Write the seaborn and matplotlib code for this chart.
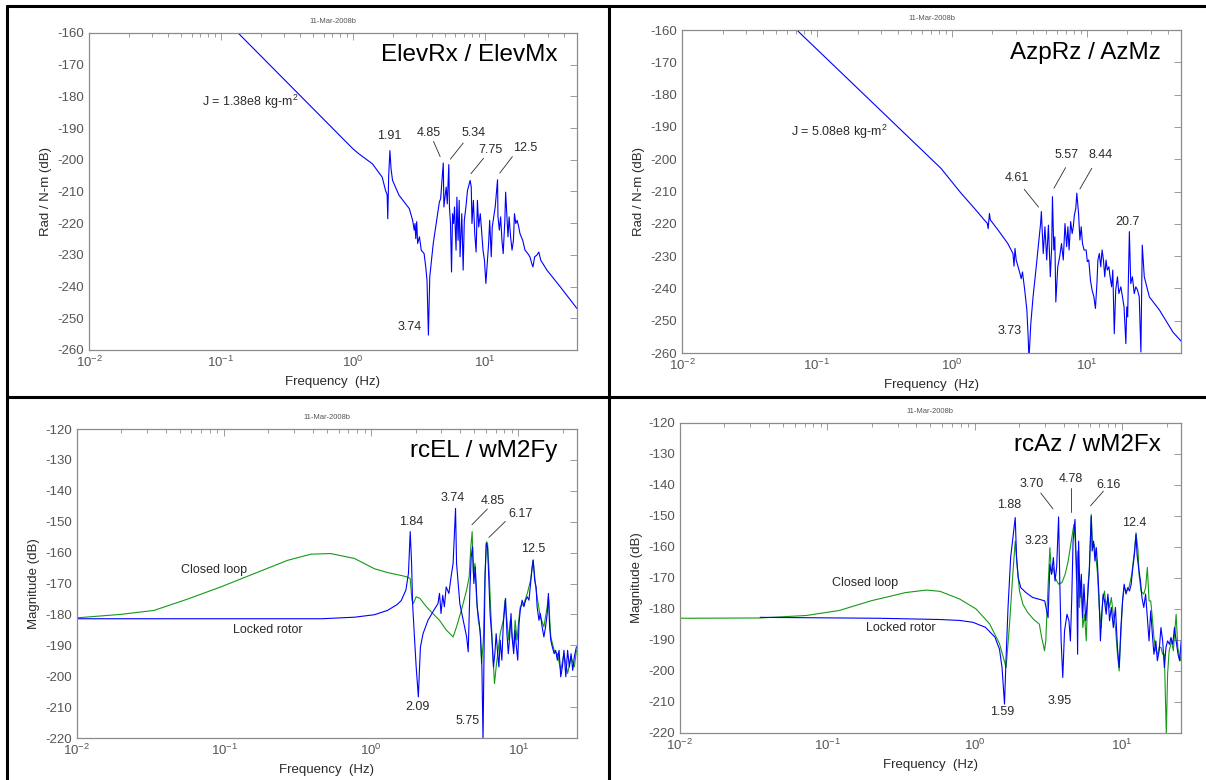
import numpy as np
import pandas as pd
import seaborn as sns
import matplotlib.pyplot as plt
from matplotlib.lines import Line2D
from matplotlib.ticker import LogLocator, MultipleLocator, NullFormatter

# ---------------- data (frequency Hz, magnitude dB) ----------------
# top-left: ElevRx / ElevMx
elev_f = [0.135, 1.0, 1.11, 1.41, 1.67, 1.77, 1.82, 1.84, 1.87, 1.91, 1.95, 2.0, 2.24, 2.68, 2.84,
          2.92, 2.96, 3.0, 3.05, 3.1, 3.2, 3.3, 3.47, 3.57, 3.65, 3.74, 3.83, 4.07, 4.32, 4.53,
          4.63, 4.74, 4.85, 4.9, 5.03, 5.1, 5.2, 5.34, 5.4, 5.5, 5.6, 5.7, 5.8, 5.9, 6.06, 6.15,
          6.28, 6.4, 6.5, 6.7, 6.86, 7.0, 7.2, 7.4, 7.75, 7.9, 8.0, 8.2, 8.4, 8.6, 8.8, 9.0, 9.25,
          9.5, 9.7, 9.95, 10.2, 10.4, 10.7, 10.9, 11.2, 11.4, 11.7, 12.0, 12.5, 12.6, 12.9, 13.2,
          13.5, 13.8, 14.2, 14.4, 14.6, 15.0, 15.3, 15.7, 16.1, 16.5, 16.8, 17.2, 17.6, 18.1, 18.5,
          19.4, 20.2, 21.2, 22.0, 22.7, 23.2, 23.9, 24.8, 25.7, 26.6, 29.6, 37.4, 50.0]
elev_db = [-160, -196.5, -198.1, -201.3, -205.5, -209.7, -211.0, -218.6, -205.0, -197.1, -203.0,
           -206.5, -211.2, -215.4, -219.1, -222.2, -220.1, -224.9, -219.5, -226.4, -224.3, -228.5,
           -229.6, -233.8, -238.0, -255.3, -236.9, -226.4, -219.1, -213.3, -212.3, -206.5, -201.0,
           -214.9, -210.7, -208.6, -213.9, -201.5, -214.9, -220.1, -235.4, -217.0, -220.1, -214.9,
           -228.5, -211.8, -225.4, -212.8, -230.6, -217.0, -234.8, -219.1, -214.9, -209.7, -206.5,
           -208.6, -220.1, -212.8, -223.3, -229.1, -212.8, -221.2, -217.0, -223.3, -228.5, -231.7,
           -239.0, -233.8, -226.4, -219.1, -230.6, -221.2, -218.0, -214.9, -206.3, -218.0, -222.2,
           -218.0, -225.4, -229.6, -219.1, -210.2, -214.9, -224.3, -218.0, -224.3, -228.5, -225.4,
           -217.0, -220.1, -219.1, -221.2, -223.3, -225.4, -228.5, -229.6, -230.6, -232.7, -233.8,
           -230.6, -230.1, -229.1, -231.7, -234.8, -240.1, -246.9]

# top-right: AzpRz / AzMz
az_f = [0.071, 0.83, 1.17, 1.47, 1.74, 1.83, 1.86, 1.9, 1.93, 2.2, 2.6, 2.84, 2.89, 2.94, 3.0,
        3.1, 3.2, 3.27, 3.34, 3.47, 3.6, 3.68, 3.73, 3.85, 4.0, 4.2, 4.37, 4.55, 4.61, 4.76, 4.9,
        5.05, 5.2, 5.37, 5.5, 5.57, 5.7, 5.8, 5.9, 6.1, 6.3, 6.5, 6.7, 6.9, 7.1, 7.25, 7.4, 7.6,
        7.8, 7.95, 8.1, 8.3, 8.44, 8.7, 8.9, 9.1, 9.3, 9.55, 9.9, 10.1, 10.35, 10.65, 10.95, 11.3,
        11.6, 11.9, 12.1, 12.4, 12.7, 13.0, 13.3, 13.6, 13.9, 14.2, 14.6, 14.9, 15.3, 15.6, 16.0,
        16.4, 16.9, 17.3, 17.9, 18.4, 18.9, 19.5, 19.8, 20.1, 20.7, 21.2, 21.8, 22.5, 23.1, 23.8,
        24.5, 25.2, 25.8, 26.7, 29.1, 34.6, 43.5, 52.0]
az_db = [-160, -202.8, -210.5, -215.2, -218.8, -219.8, -221.5, -216.8, -218.8, -221.9, -226.1,
         -229.2, -233.1, -227.6, -231.2, -233.3, -235.4, -237.0, -234.9, -240.5, -246.7, -255.0,
         -262.0, -250.9, -242.6, -234.3, -227.1, -219.9, -216.2, -229.2, -220.9, -231.2, -220.4,
         -236.4, -227.1, -211.6, -228.1, -224.0, -244.2, -233.3, -230.2, -226.1, -231.2, -219.9,
         -227.1, -220.9, -228.1, -219.3, -223.0, -220.9, -217.3, -215.2, -210.5, -216.8, -225.0,
         -220.9, -226.1, -228.1, -228.1, -231.7, -231.2, -237.4, -240.5, -242.6, -246.2, -238.5,
         -231.2, -229.2, -233.3, -228.1, -231.2, -236.4, -231.2, -234.3, -233.3, -236.4, -239.5,
         -234.3, -254.0, -240.5, -236.4, -241.6, -239.5, -242.6, -245.7, -257.1, -245.7, -248.8,
         -222.4, -238.5, -236.4, -241.6, -239.5, -240.5, -242.6, -259.7, -226.6, -236.4, -242.6,
         -246.7, -253.5, -257.1]

# bottom-left: rcEL / wM2Fy
el_lock_f = [0.01, 0.46, 0.77, 1.05, 1.29, 1.5, 1.6, 1.72, 1.79, 1.84, 1.88, 1.91, 1.96, 2.02,
             2.09, 2.13, 2.16, 2.25, 2.43, 2.62, 2.84, 2.91, 2.98, 3.06, 3.14, 3.23, 3.37, 3.5,
             3.6, 3.74, 3.8, 4.0, 4.26, 4.45, 4.56, 4.68, 4.78, 4.88, 4.98, 5.09, 5.25, 5.42,
             5.53, 5.65, 5.75, 5.84, 5.93, 6.04, 6.17, 6.3, 6.42, 6.6, 6.77, 6.92, 7.06, 7.2,
             7.37, 7.52, 7.72, 7.9, 8.18, 8.36, 8.54, 8.72, 8.91, 9.1, 9.29, 9.49, 9.69, 9.9,
             10.1, 10.3, 10.6, 10.9, 11.2, 11.5, 11.8, 12.1, 12.4, 12.6, 12.9, 13.2, 13.4, 13.8,
             14.1, 14.5, 14.9, 15.3, 15.7, 16.0, 16.3, 16.6, 17.0, 17.5, 17.9, 18.4, 18.9, 19.4,
             19.9, 20.4, 21.0, 21.6, 22.2, 22.8, 23.4, 24.0, 24.8]
el_lock_db = [-181.4, -181.4, -180.9, -180.1, -178.7, -176.8, -175.5, -172.1, -166.7, -153.2,
              -163.5, -176.5, -186.2, -197.0, -206.7, -197.0, -190.5, -186.2, -181.9, -179.2,
              -176.5, -173.2, -179.7, -173.8, -177.5, -171.1, -173.2, -167.3, -163.5, -145.7,
              -163.5, -176.5, -182.9, -187.3, -192.1, -172.1, -161.3, -158.1, -170.0, -164.6,
              -177.5, -182.9, -187.3, -197.0, -221.0, -192.7, -168.9, -157.0, -158.1, -168.9,
              -179.7, -187.3, -197.0, -192.7, -186.2, -191.6, -197.0, -188.3, -194.8, -182.9,
              -174.8, -186.2, -192.7, -187.3, -179.7, -188.3, -192.7, -185.1, -190.5, -194.8,
              -182.9, -178.6, -175.4, -177.5, -175.4, -174.3, -175.4, -170.0, -164.6, -162.4,
              -168.9, -171.1, -177.5, -181.9, -179.7, -184.0, -187.3, -184.0, -179.7, -173.2,
              -184.0, -188.3, -190.5, -192.7, -191.6, -194.8, -191.6, -200.2, -197.0, -191.6,
              -200.2, -191.6, -197.0, -192.7, -198.1, -193.7, -190.5]
el_closed_f = [0.01, 0.0197, 0.0334, 0.056, 0.095, 0.16, 0.27, 0.39, 0.53, 0.77, 1.05, 1.3, 1.6,
               1.76, 1.84, 1.89, 1.93, 2.02, 2.14, 2.37, 2.62, 2.91, 3.23, 3.6, 3.8, 4.1, 4.45,
               4.63, 4.75, 4.85, 4.94, 5.07, 5.2, 5.34, 5.5, 5.62, 5.78, 5.93, 6.08, 6.17, 6.33,
               6.5, 6.7, 6.88, 7.06, 7.33, 7.52, 7.9, 8.1, 8.36, 8.6, 8.8, 9.05, 9.29, 9.5, 9.8,
               10.05, 10.3, 10.9, 11.5, 12.1, 12.6, 13.1, 13.4, 14.1, 14.9, 15.7, 16.0, 16.6, 17.5,
               18.4, 19.4, 20.4, 21.6, 22.8, 24.0, 24.8]
el_closed_db = [-181.1, -180.0, -178.7, -175.1, -171.1, -166.8, -162.5, -160.5, -160.3, -161.9,
                -165.2, -166.5, -167.4, -167.9, -168.4, -175.4, -176.5, -174.3, -174.8, -177.5,
                -179.7, -181.9, -185.0, -187.3, -184.0, -178.6, -172.1, -167.8, -158.1, -153.2,
                -166.7, -163.5, -175.4, -181.9, -185.1, -195.9, -188.3, -166.7, -156.5, -157.0,
                -166.7, -179.7, -192.7, -202.4, -197.0, -190.5, -186.2, -181.9, -175.4, -181.9,
                -188.3, -181.9, -187.3, -190.5, -181.9, -188.3, -181.9, -177.5, -176.5, -173.2,
                -168.9, -162.4, -171.1, -174.3, -180.8, -184.0, -177.5, -174.3, -187.3, -191.6,
                -192.7, -198.1, -192.7, -199.1, -193.7, -197.0, -191.6]

# bottom-right: rcAz / wM2Fx
azr_lock_f = [0.035, 0.225, 0.58, 0.79, 0.97, 1.18, 1.37, 1.47, 1.53, 1.59, 1.63, 1.68, 1.75,
              1.88, 1.92, 1.97, 2.05, 2.22, 2.47, 2.75, 2.98, 3.14, 3.23, 3.32, 3.41, 3.5, 3.59,
              3.7, 3.77, 3.85, 3.95, 4.06, 4.22, 4.35, 4.45, 4.54, 4.64, 4.78, 4.84, 4.9, 4.98,
              5.06, 5.17, 5.28, 5.39, 5.5, 5.65, 5.8, 5.96, 6.16, 6.25, 6.39, 6.53, 6.67, 6.81,
              6.96, 7.11, 7.26, 7.42, 7.58, 7.78, 7.99, 8.2, 8.43, 8.7, 8.99, 9.28, 9.53, 9.79,
              10.05, 10.3, 10.6, 10.9, 11.2, 11.5, 11.8, 12.1, 12.4, 12.6, 12.9, 13.3, 13.6, 14.0,
              14.4, 14.8, 15.2, 15.6, 16.0, 16.4, 16.9, 17.3, 17.8, 18.3, 18.8, 19.3, 19.8, 20.3,
              20.9, 21.4, 22.0, 22.6, 23.2, 23.9, 24.5, 25.1]
azr_lock_db = [-182.7, -183.0, -183.4, -183.7, -184.3, -185.9, -189.1, -193.0, -198.9, -210.7,
               -195.6, -179.5, -163.4, -150.5, -163.4, -169.9, -173.1, -174.7, -176.3, -176.9,
               -177.4, -182.8, -165.6, -168.8, -163.4, -171.0, -166.6, -150.3, -171.0, -190.3,
               -202.1, -187.1, -181.7, -183.8, -190.3, -177.4, -158.1, -151.1, -160.2, -166.6,
               -194.6, -158.1, -176.3, -168.8, -182.8, -172.0, -183.8, -177.4, -168.8, -150.0,
               -161.3, -158.1, -164.5, -160.2, -166.6, -176.3, -190.3, -181.7, -175.2, -177.4,
               -181.7, -175.2, -183.8, -179.5, -186.0, -179.5, -192.4, -198.9, -186.0, -177.4,
               -172.0, -175.2, -173.1, -174.2, -172.0, -166.6, -162.4, -155.9, -162.4, -166.6,
               -171.0, -176.3, -179.5, -175.2, -182.8, -190.3, -180.6, -188.1, -194.6, -190.3,
               -196.7, -193.5, -186.0, -190.3, -198.9, -192.4, -190.3, -191.4, -189.2, -191.4,
               -186.0, -190.3, -194.6, -196.7, -190.3]
azr_closed_f = [0.01, 0.035, 0.072, 0.12, 0.2, 0.34, 0.47, 0.58, 0.79, 1.02, 1.26, 1.47, 1.56,
                1.63, 1.72, 1.81, 1.88, 1.94, 2.01, 2.12, 2.28, 2.5, 2.74, 2.84, 2.91, 2.97, 3.03,
                3.1, 3.23, 3.31, 3.4, 3.5, 3.7, 3.9, 4.1, 4.3, 4.55, 4.7, 4.8, 4.9, 5.0, 5.12, 5.25,
                5.4, 5.55, 5.7, 5.86, 6.0, 6.16, 6.3, 6.46, 6.6, 6.8, 6.98, 7.2, 7.37, 7.58, 7.78,
                8.0, 8.2, 8.43, 8.7, 8.99, 9.28, 9.53, 9.79, 10.05, 10.3, 10.7, 11.1, 11.6, 12.1,
                12.4, 12.8, 13.0, 13.4, 14.0, 14.4, 14.8, 15.2, 15.6, 16.0, 16.4, 16.9, 17.4, 17.8,
                18.3, 18.8, 19.3, 19.9, 20.3, 20.8, 21.6, 22.2, 23.2, 23.8, 24.5, 25.0, 25.4]
azr_closed_db = [-183.0, -182.9, -182.1, -180.5, -177.3, -174.7, -173.9, -174.3, -176.8, -180.0,
                 -184.8, -191.2, -195.6, -198.9, -184.9, -168.8, -158.1, -166.6, -174.2, -178.5,
                 -181.1, -183.3, -184.9, -189.2, -191.4, -193.5, -190.3, -178.5, -160.2, -168.8,
                 -166.6, -169.9, -172.0, -171.5, -168.8, -164.5, -157.0, -152.7, -158.1, -171.0,
                 -161.3, -179.5, -171.0, -186.0, -181.7, -190.3, -172.0, -166.6, -149.5, -160.2,
                 -159.1, -162.4, -168.8, -179.5, -186.0, -177.4, -174.2, -179.5, -176.3, -179.5,
                 -176.3, -181.7, -186.0, -194.6, -200.0, -188.1, -177.4, -173.1, -174.2, -173.1,
                 -168.8, -161.3, -155.4, -161.3, -168.8, -174.2, -175.2, -173.1, -166.6, -177.4,
                 -177.4, -182.8, -189.2, -193.5, -194.6, -192.4, -192.4, -194.6, -194.6, -220.4,
                 -201.0, -193.5, -190.3, -193.5, -181.7, -192.4, -195.6, -196.7, -188.1]

# labels: (text, freq, dB) and leader lines (f1, dB1, f2, dB2)
elev_labels = [('1.91', 1.88, -192.6), ('4.85', 3.75, -191.6), ('5.34', 8.2, -191.6),
               ('7.75', 11.0, -196.8), ('12.5', 20.1, -196.3), ('3.74', 2.69, -252.8),
               ('J = 1.38e8 kg-m$^2$', 0.0724, -181.6)]
elev_leaders = [(4.09, -194.2, 4.59, -199.0), (6.87, -194.7, 5.49, -199.8),
                (9.8, -199.5, 7.85, -204.4), (16.2, -199.0, 13.0, -204.2)]
az_labels = [('4.61', 3.02, -205.9), ('5.57', 7.1, -198.7), ('8.44', 12.6, -198.7),
             ('20.7', 20.0, -219.3), ('3.73', 2.68, -253.3), ('J = 5.08e8 kg-m$^2$', 0.0644, -191.6)]
az_leaders = [(3.44, -209.3, 4.39, -214.8), (6.97, -202.6, 5.71, -209.0),
              (10.9, -202.8, 8.9, -209.2)]
el_labels = [('1.84', 1.87, -150.1), ('3.74', 3.56, -142.3), ('4.85', 6.68, -143.4),
             ('6.17', 10.4, -147.4), ('12.5', 12.6, -158.8), ('2.09', 2.05, -210.1),
             ('5.75', 4.55, -214.4), ('Closed loop', 0.0855, -165.5), ('Locked rotor', 0.199, -185.2)]
el_leaders = [(6.15, -145.9, 4.83, -151.0), (8.15, -149.9, 6.3, -155.1)]
azr_labels = [('1.88', 1.70, -146.3), ('3.70', 2.45, -139.7), ('4.78', 4.47, -138.1),
              ('6.16', 8.1, -139.9), ('3.23', 2.63, -158.0), ('12.4', 12.0, -152.3),
              ('1.59', 1.53, -213.2), ('3.95', 3.78, -209.6), ('Closed loop', 0.181, -171.6),
              ('Locked rotor', 0.316, -186.1)]
azr_leaders = [(2.8, -142.6, 3.39, -147.7), (4.52, -141.0, 4.52, -148.8), (7.45, -142.0, 6.1, -146.7)]

BLUE = '#0000ff'
GREEN = '#159a15'
GRAY = '#8c8c8c'
TICK_TXT = '#555555'
TXT = '#2a2a2a'

sns.set_theme(style='white')
plt.rcParams.update({
    'font.family': ['Liberation Sans', 'DejaVu Sans'],
    'axes.unicode_minus': False,
    'mathtext.fontset': 'custom',
    'mathtext.rm': 'Liberation Sans',
    'mathtext.it': 'Liberation Sans:italic',
    'mathtext.bf': 'Liberation Sans:bold',
})


def style_axes(ax, xmax, ylim, ylabel, name, labels, leaders):
    ax.set_xscale('log')
    ax.set_xlim(0.01, xmax)
    ax.set_ylim(*ylim)
    ax.yaxis.set_major_locator(MultipleLocator(10))
    ax.xaxis.set_major_locator(LogLocator(base=10, numticks=10))
    ax.xaxis.set_minor_locator(LogLocator(base=10, subs=np.arange(2, 10), numticks=30))
    ax.xaxis.set_minor_formatter(NullFormatter())
    ax.tick_params(which='both', direction='in', top=True, right=True, color=GRAY,
                   labelcolor=TICK_TXT, labelsize=9.5, width=0.6)
    ax.tick_params(which='major', length=5)
    ax.tick_params(which='minor', length=3)
    for s in ax.spines.values():
        s.set_color(GRAY)
        s.set_linewidth(0.9)
    ax.set_xlabel('Frequency  (Hz)', fontsize=9.5, color=TXT)
    ax.set_ylabel(ylabel, fontsize=9.5, color=TXT)
    ax.set_title('11-Mar-2008b', fontsize=5.5, color=TICK_TXT, pad=7)
    ax.text(0.96, 0.93, name, transform=ax.transAxes, ha='right', va='center',
            fontsize=17.5, color='black')
    for txt, f, d in labels:
        ha = 'left' if txt.startswith('J') else 'center'
        ax.text(f, d, txt, ha=ha, va='center', fontsize=9, color=TXT)
    for f1, d1, f2, d2 in leaders:
        ax.plot([f1, f2], [d1, d2], color=TXT, lw=0.6)


fig = plt.figure(figsize=(12.06, 7.8), dpi=100)
ax1 = fig.add_axes([0.0738, 0.5513, 0.4046, 0.4064])
ax2 = fig.add_axes([0.5655, 0.5474, 0.4138, 0.4141])
ax3 = fig.add_axes([0.0638, 0.0538, 0.4146, 0.3962])
ax4 = fig.add_axes([0.5638, 0.0603, 0.4154, 0.3974])

sns.lineplot(x=elev_f, y=elev_db, ax=ax1, color=BLUE, lw=0.8, estimator=None, sort=False)
sns.lineplot(x=az_f, y=az_db, ax=ax2, color=BLUE, lw=0.8, estimator=None, sort=False)
sns.lineplot(x=el_closed_f, y=el_closed_db, ax=ax3, color=GREEN, lw=0.8, estimator=None, sort=False)
sns.lineplot(x=el_lock_f, y=el_lock_db, ax=ax3, color=BLUE, lw=0.8, estimator=None, sort=False)
sns.lineplot(x=azr_closed_f, y=azr_closed_db, ax=ax4, color=GREEN, lw=0.8, estimator=None, sort=False)
sns.lineplot(x=azr_lock_f, y=azr_lock_db, ax=ax4, color=BLUE, lw=0.8, estimator=None, sort=False)

style_axes(ax1, 50, (-260, -160), 'Rad / N-m (dB)', 'ElevRx / ElevMx', elev_labels, elev_leaders)
style_axes(ax2, 50, (-260, -160), 'Rad / N-m (dB)', 'AzpRz / AzMz', az_labels, az_leaders)
style_axes(ax3, 25, (-220, -120), 'Magnitude (dB)', 'rcEL / wM2Fy', el_labels, el_leaders)
style_axes(ax4, 25, (-220, -120), 'Magnitude (dB)', 'rcAz / wM2Fx', azr_labels, azr_leaders)

# table-like black frame: left edge, middle divider, top edge, middle horizontal (open on the right)
for xs, ys in [([0.0058, 0.0058], [0.0, 0.9923]), ([0.505, 0.505], [0.0, 0.9923]),
               ([0.0058, 1.0], [0.9923, 0.9923]), ([0.0058, 1.0], [0.491, 0.491])]:
    fig.add_artist(Line2D(xs, ys, transform=fig.transFigure, color='black', lw=2.2))

fig.savefig('out.png', dpi=100)
